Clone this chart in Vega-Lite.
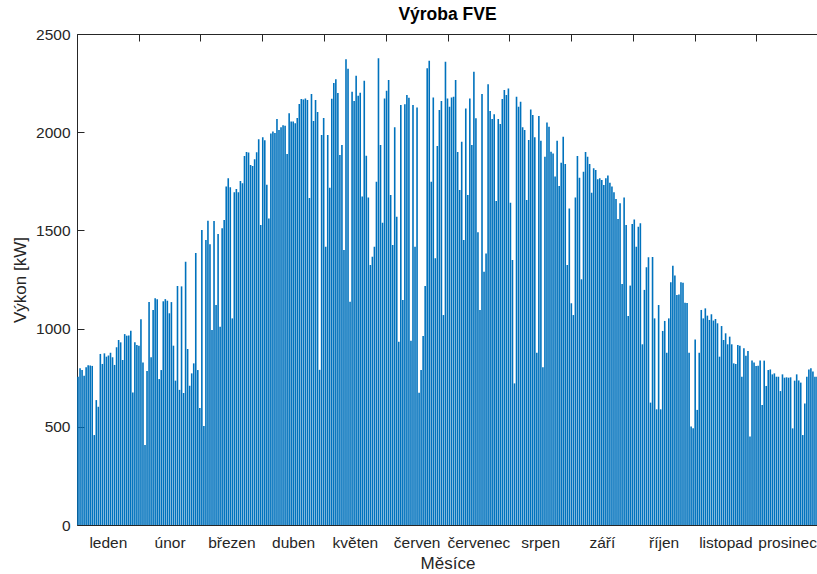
{
  "$schema": "https://vega.github.io/schema/vega-lite/v6.json",
  "width": 741,
  "height": 491,
  "autosize": "none",
  "padding": {"left": 77, "top": 34, "right": 0, "bottom": 49},
  "background": "white",
  "config": {
    "font": "Liberation Sans",
    "view": {"stroke": "#262626", "strokeWidth": 1}
  },
  "title": {"text": "Výroba FVE", "fontSize": 17.5, "fontWeight": "bold", "color": "#000000", "offset": 4, "anchor": "middle"},
  "data": {"values": [
    {"d":0,"p":755},{"d":1,"p":798},{"d":2,"p":789},{"d":3,"p":760},{"d":4,"p":803},{"d":5,"p":813},{"d":6,"p":812},{"d":7,"p":810},{"d":8,"p":458},{"d":9,"p":636},
    {"d":10,"p":602},{"d":11,"p":871},{"d":12,"p":820},{"d":13,"p":874},{"d":14,"p":857},{"d":15,"p":863},{"d":16,"p":877},{"d":17,"p":854},{"d":18,"p":815},{"d":19,"p":905},
    {"d":20,"p":942},{"d":21,"p":930},{"d":22,"p":840},{"d":23,"p":972},{"d":24,"p":964},{"d":25,"p":965},{"d":26,"p":989},{"d":27,"p":675},{"d":28,"p":930},{"d":29,"p":917},
    {"d":30,"p":913},{"d":31,"p":1047},{"d":32,"p":827},{"d":33,"p":407},{"d":34,"p":784},{"d":35,"p":1135},{"d":36,"p":854},{"d":37,"p":1095},{"d":38,"p":1154},{"d":39,"p":1149},
    {"d":40,"p":743},{"d":41,"p":789},{"d":42,"p":1139},{"d":43,"p":1150},{"d":44,"p":1142},{"d":45,"p":1078},{"d":46,"p":1135},{"d":47,"p":913},{"d":48,"p":735},{"d":49,"p":1217},
    {"d":50,"p":688},{"d":51,"p":1215},{"d":52,"p":672},{"d":53,"p":1340},{"d":54,"p":896},{"d":55,"p":709},{"d":56,"p":772},{"d":57,"p":823},{"d":58,"p":1385},{"d":59,"p":789},
    {"d":60,"p":596},{"d":61,"p":1502},{"d":62,"p":504},{"d":63,"p":1451},{"d":64,"p":1549},{"d":65,"p":1429},{"d":66,"p":993},{"d":67,"p":1548},{"d":68,"p":1120},{"d":69,"p":1482},
    {"d":70,"p":1010},{"d":71,"p":1511},{"d":72,"p":1553},{"d":73,"p":1723},{"d":74,"p":1765},{"d":75,"p":1720},{"d":76,"p":1052},{"d":77,"p":1694},{"d":78,"p":1711},{"d":79,"p":1694},
    {"d":80,"p":1752},{"d":81,"p":1740},{"d":82,"p":1879},{"d":83,"p":1899},{"d":84,"p":1897},{"d":85,"p":1833},{"d":86,"p":1828},{"d":87,"p":1862},{"d":88,"p":1898},{"d":89,"p":1964},
    {"d":90,"p":1527},{"d":91,"p":1974},{"d":92,"p":1959},{"d":93,"p":1733},{"d":94,"p":1560},{"d":95,"p":1994},{"d":96,"p":2003},{"d":97,"p":1996},{"d":98,"p":2067},{"d":99,"p":2011},
    {"d":100,"p":2025},{"d":101,"p":2035},{"d":102,"p":2033},{"d":103,"p":1889},{"d":104,"p":2096},{"d":105,"p":2055},{"d":106,"p":2055},{"d":107,"p":2046},{"d":108,"p":2072},{"d":109,"p":2144},
    {"d":110,"p":2169},{"d":111,"p":2167},{"d":112,"p":2172},{"d":113,"p":2164},{"d":114,"p":1665},{"d":115,"p":2194},{"d":116,"p":2057},{"d":117,"p":2164},{"d":118,"p":2103},{"d":119,"p":790},
    {"d":120,"p":1986},{"d":121,"p":2072},{"d":122,"p":1417},{"d":123,"p":1986},{"d":124,"p":1717},{"d":125,"p":2170},{"d":126,"p":2250},{"d":127,"p":2270},{"d":128,"p":2199},{"d":129,"p":1884},
    {"d":130,"p":1935},{"d":131,"p":1400},{"d":132,"p":2371},{"d":133,"p":2323},{"d":134,"p":1137},{"d":135,"p":2206},{"d":136,"p":2159},{"d":137,"p":2288},{"d":138,"p":2186},{"d":139,"p":2201},
    {"d":140,"p":1672},{"d":141,"p":2262},{"d":142,"p":1880},{"d":143,"p":1668},{"d":144,"p":1324},{"d":145,"p":1366},{"d":146,"p":1417},{"d":147,"p":1748},{"d":148,"p":2376},{"d":149,"p":1935},
    {"d":150,"p":1539},{"d":151,"p":2172},{"d":152,"p":2211},{"d":153,"p":2266},{"d":154,"p":1680},{"d":155,"p":1426},{"d":156,"p":2025},{"d":157,"p":1570},{"d":158,"p":933},{"d":159,"p":2138},
    {"d":160,"p":1145},{"d":161,"p":2142},{"d":162,"p":2189},{"d":163,"p":2176},{"d":164,"p":938},{"d":165,"p":2138},{"d":166,"p":1417},{"d":167,"p":2126},{"d":168,"p":674},{"d":169,"p":789},
    {"d":170,"p":962},{"d":171,"p":1217},{"d":172,"p":2325},{"d":173,"p":2364},{"d":174,"p":1748},{"d":175,"p":2177},{"d":176,"p":1358},{"d":177,"p":1930},{"d":178,"p":2113},{"d":179,"p":2159},
    {"d":180,"p":1069},{"d":181,"p":2359},{"d":182,"p":2172},{"d":183,"p":2130},{"d":184,"p":2177},{"d":185,"p":2181},{"d":186,"p":2266},{"d":187,"p":1899},{"d":188,"p":1706},{"d":189,"p":1952},
    {"d":190,"p":1451},{"d":191,"p":2121},{"d":192,"p":1680},{"d":193,"p":2172},{"d":194,"p":1935},{"d":195,"p":2308},{"d":196,"p":2071},{"d":197,"p":1490},{"d":198,"p":1095},{"d":199,"p":2194},
    {"d":200,"p":1290},{"d":201,"p":1383},{"d":202,"p":2244},{"d":203,"p":2108},{"d":204,"p":2067},{"d":205,"p":2091},{"d":206,"p":1650},{"d":207,"p":2067},{"d":208,"p":2042},{"d":209,"p":2169},
    {"d":210,"p":2215},{"d":211,"p":2189},{"d":212,"p":2223},{"d":213,"p":1641},{"d":214,"p":1349},{"d":215,"p":721},{"d":216,"p":2181},{"d":217,"p":2130},{"d":218,"p":2155},{"d":219,"p":2025},
    {"d":220,"p":2011},{"d":221,"p":1655},{"d":222,"p":1960},{"d":223,"p":2116},{"d":224,"p":2088},{"d":225,"p":1974},{"d":226,"p":877},{"d":227,"p":2083},{"d":228,"p":1957},{"d":229,"p":803},
    {"d":230,"p":1875},{"d":231,"p":2049},{"d":232,"p":2028},{"d":233,"p":1901},{"d":234,"p":1892},{"d":235,"p":1774},{"d":236,"p":1957},{"d":237,"p":1726},{"d":238,"p":1845},{"d":239,"p":1977},
    {"d":240,"p":1838},{"d":241,"p":1324},{"d":242,"p":1612},{"d":243,"p":1129},{"d":244,"p":1069},{"d":245,"p":1667},{"d":246,"p":1879},{"d":247,"p":1768},{"d":248,"p":1251},{"d":249,"p":1799},
    {"d":250,"p":1899},{"d":251,"p":1875},{"d":252,"p":1838},{"d":253,"p":1692},{"d":254,"p":1816},{"d":255,"p":1808},{"d":256,"p":1760},{"d":257,"p":1765},{"d":258,"p":1757},{"d":259,"p":1731},
    {"d":260,"p":1765},{"d":261,"p":1779},{"d":262,"p":1743},{"d":263,"p":1723},{"d":264,"p":1694},{"d":265,"p":1660},{"d":266,"p":1558},{"d":267,"p":1638},{"d":268,"p":1227},{"d":269,"p":1667},
    {"d":270,"p":1527},{"d":271,"p":1064},{"d":272,"p":1219},{"d":273,"p":1532},{"d":274,"p":1556},{"d":275,"p":1417},{"d":276,"p":1519},{"d":277,"p":1536},{"d":278,"p":920},{"d":279,"p":1197},
    {"d":280,"p":1312},{"d":281,"p":1363},{"d":282,"p":623},{"d":283,"p":1365},{"d":284,"p":1052},{"d":285,"p":589},{"d":286,"p":1120},{"d":287,"p":589},{"d":288,"p":988},{"d":289,"p":1039},
    {"d":290,"p":877},{"d":291,"p":1052},{"d":292,"p":1236},{"d":293,"p":1320},{"d":294,"p":1270},{"d":295,"p":1171},{"d":296,"p":1173},{"d":297,"p":1236},{"d":298,"p":1233},{"d":299,"p":1132},
    {"d":300,"p":1130},{"d":301,"p":877},{"d":302,"p":501},{"d":303,"p":493},{"d":304,"p":945},{"d":305,"p":586},{"d":306,"p":877},{"d":307,"p":1095},{"d":308,"p":1052},{"d":309,"p":1103},
    {"d":310,"p":1066},{"d":311,"p":1044},{"d":312,"p":1073},{"d":313,"p":1041},{"d":314,"p":1049},{"d":315,"p":1027},{"d":316,"p":857},{"d":317,"p":1013},{"d":318,"p":942},{"d":319,"p":976},
    {"d":320,"p":920},{"d":321,"p":959},{"d":322,"p":920},{"d":323,"p":823},{"d":324,"p":820},{"d":325,"p":916},{"d":326,"p":913},{"d":327,"p":755},{"d":328,"p":900},{"d":329,"p":862},
    {"d":330,"p":886},{"d":331,"p":450},{"d":332,"p":837},{"d":333,"p":827},{"d":334,"p":810},{"d":335,"p":811},{"d":336,"p":837},{"d":337,"p":611},{"d":338,"p":837},{"d":339,"p":708},
    {"d":340,"p":789},{"d":341,"p":792},{"d":342,"p":767},{"d":343,"p":772},{"d":344,"p":755},{"d":345,"p":755},{"d":346,"p":682},{"d":347,"p":767},{"d":348,"p":750},{"d":349,"p":752},
    {"d":350,"p":750},{"d":351,"p":752},{"d":352,"p":492},{"d":353,"p":735},{"d":354,"p":767},{"d":355,"p":736},{"d":356,"p":725},{"d":357,"p":458},{"d":358,"p":619},{"d":359,"p":755},
    {"d":360,"p":792},{"d":361,"p":798},{"d":362,"p":781},{"d":363,"p":755},{"d":364,"p":755}
  ]},
  "resolve": {"axis": {"x": "independent"}},
  "layer": [
    {
      "mark": {"type": "rule", "color": "#0072BD", "strokeWidth": 1.6},
      "encoding": {
        "x": {
          "field": "d", "type": "quantitative",
          "scale": {"domain": [-0.5, 364.5], "nice": false, "zero": false},
          "axis": {
            "orient": "bottom",
            "values": [14.7083, 45.125, 75.5417, 105.9583, 136.375, 166.7917, 197.2083, 227.625, 258.0417, 288.4583, 318.875, 349.2917],
            "labelExpr": "['leden','únor','březen','duben','květen','červen','červenec','srpen','září','říjen','listopad','prosinec'][floor((datum.value+0.5)/30.4167)]",
            "ticks": false, "domain": false, "grid": false,
            "labelFontSize": 15.5, "labelColor": "#262626", "labelPadding": 10, "labelOverlap": false, "labelFlush": false,
            "title": "Měsíce", "titleFontSize": 17, "titleFontWeight": "normal", "titleColor": "#262626", "titlePadding": 5
          }
        },
        "y": {
          "field": "p", "type": "quantitative",
          "scale": {"domain": [0, 2500], "nice": false, "zero": true},
          "axis": {
            "values": [0, 500, 1000, 1500, 2000, 2500],
            "format": "d",
            "tickSize": -7, "tickColor": "#262626", "labelPadding": 14,
            "domain": false, "grid": false,
            "labelFontSize": 15.5, "labelColor": "#262626",
            "title": "Výkon [kW]", "titleFontSize": 17, "titleFontWeight": "normal", "titleColor": "#262626", "titlePadding": 6
          }
        },
        "y2": {"datum": 0}
      }
    },
    {
      "mark": {"type": "rule", "opacity": 0},
      "encoding": {
        "x": {
          "field": "d", "type": "quantitative",
          "axis": {
            "orient": "top",
            "values": [-0.5, 29.9167, 60.3333, 90.75, 121.1667, 151.5833, 182, 212.4167, 242.8333, 273.25, 303.6667, 334.0833, 364.5],
            "labels": false, "tickSize": -7, "tickColor": "#262626", "domain": false, "grid": false, "title": null
          }
        }
      }
    }
  ]
}
